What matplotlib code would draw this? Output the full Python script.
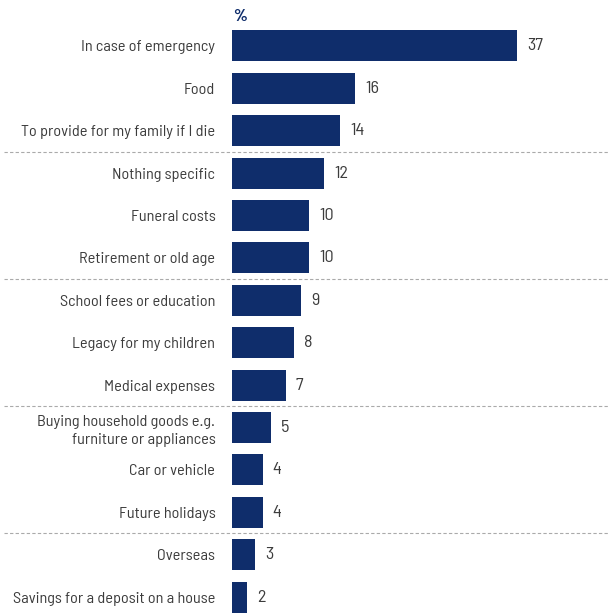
import matplotlib
matplotlib.use("Agg")
import matplotlib.pyplot as plt

plt.rcParams["font.family"] = ["Barlow Semi Condensed", "DejaVu Sans"]

categories = [
    "In case of emergency",
    "Food",
    "To provide for my family if I die",
    "Nothing specific",
    "Funeral costs",
    "Retirement or old age",
    "School fees or education",
    "Legacy for my children",
    "Medical expenses",
    "Buying household goods e.g.\nfurniture or appliances",
    "Car or vehicle",
    "Future holidays",
    "Overseas",
    "Savings for a deposit on a house",
]
values = [37, 16, 14, 12, 10, 10, 9, 8, 7, 5, 4, 4, 3, 2]
group_breaks = [2.5, 5.5, 8.5, 11.5]

navy = "#0f2d6b"
text_grey = "#3c3c3c"

fig = plt.figure(figsize=(6.08, 6.14), dpi=100)
ax = fig.add_axes([232 / 608, 0.0, 376 / 608, 610 / 614])

y = list(range(len(categories)))
ax.barh(y, values, height=0.73, color=navy)

# value labels just right of each bar
for yi, v in zip(y, values):
    ax.text(v + 1.3, yi, str(v), va="center", ha="left", fontsize=13, color=text_grey)

# dashed rules between groups, running across the label column too
for b in group_breaks:
    ax.axhline(b, xmin=-0.606, xmax=1.0, color="#aaaaaa", lw=0.8,
               ls=(0, (3, 2)), clip_on=False)

ax.set_xlim(0, 48.8)
ax.set_ylim(13.4, -0.99)
ax.set_yticks(y)
ax.set_yticklabels(categories, fontsize=11.7, color=text_grey, linespacing=1.4)
ax.tick_params(axis="y", length=0, pad=12)
ax.set_xticks([])
for s in ax.spines.values():
    s.set_visible(False)

ax.text(0.003, -0.7, "%", transform=ax.get_yaxis_transform(), ha="left", va="center",
        fontsize=12.5, fontweight="bold", color=navy)

fig.savefig("out.png", dpi=100)
